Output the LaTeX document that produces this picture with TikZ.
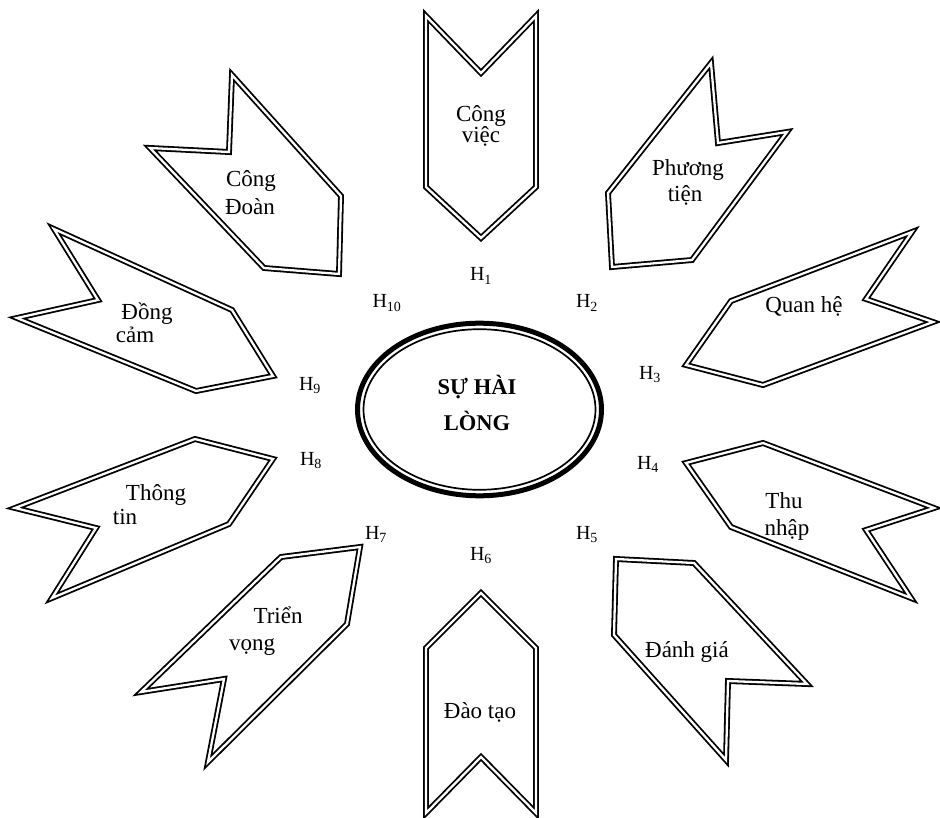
\documentclass[tikz,border=0pt]{standalone}
\usepackage{fontspec}
\setmainfont{Liberation Serif}
\begin{document}
\begin{tikzpicture}[x=1pt,y=-1pt,
  arrowshape/.style={draw, line width=1.8pt, double=white, double distance=2.3pt, line join=miter},
  lbl/.style={font=\fontsize{23}{25}\selectfont, anchor=base, inner sep=0pt},
  hlbl/.style={font=\fontsize{20}{22}\selectfont, anchor=base, inner sep=0pt},
  ctext/.style={font=\fontsize{22.5}{25}\selectfont\bfseries, anchor=base, inner sep=0pt}]
\useasboundingbox (0,0) rectangle (940,818);
% shapes
\draw[arrowshape] (426,16) -- (481,73) -- (536,16) -- (536,187) -- (481,238) -- (426,187) -- cycle;
\draw[arrowshape] (711,63) -- (718,143) -- (787,132) -- (692,260) -- (612,267) -- (608,193) -- cycle;
\draw[arrowshape] (912,232) -- (866,299) -- (933,322) -- (763,385) -- (686,365) -- (731,301) -- cycle;
\draw[arrowshape] (934,508) -- (866,530) -- (911,598) -- (731,527) -- (686,463) -- (763,443) -- cycle;
\draw[arrowshape] (807,684) -- (728,681) -- (726,760) -- (614,635) -- (616,559) -- (694,563) -- cycle;
\draw[arrowshape] (536,813) -- (481,757) -- (426,813) -- (426,648) -- (481,593) -- (536,648) -- cycle;
\draw[arrowshape] (208,762) -- (224,679) -- (141,692) -- (281,557) -- (360,547) -- (347,624) -- cycle;
\draw[arrowshape] (52,598) -- (96,528) -- (15,508) -- (195,439) -- (273,459) -- (229,524) -- cycle;
\draw[arrowshape] (17,318) -- (98,300) -- (54,229) -- (232,310) -- (273,376) -- (196,391) -- cycle;
\draw[arrowshape] (150,148) -- (229,152) -- (232,75) -- (341,196) -- (339,274) -- (264,268) -- cycle;
% central ellipse
\coordinate (c) at (479.5,409.5);
\draw[line width=5pt] (c) ellipse [x radius=122, y radius=86.3];
\draw[line width=1.7pt] (c) ellipse [x radius=116, y radius=80.3];
\node[ctext] (c1) at (477,395) {SỰ HÀI};
\node[ctext] (c2) at (477,430) {LÒNG};
% shape texts
\node[lbl] (t1a) at (481,122) {Công};
\node[lbl] (t1b) at (481,143) {việc};
\node[lbl] (t2a) at (688,176) {Phương};
\node[lbl] (t2b) at (685,202) {tiện};
\node[lbl] (t3) at (804,313) {Quan hệ};
\node[lbl] (t4a) at (784,508) {Thu};
\node[lbl] (t4b) at (787,535) {nhập};
\node[lbl] (t5) at (687,657) {Đánh giá};
\node[lbl] (t6) at (480,718) {Đào tạo};
\node[lbl] (t7a) at (278,623) {Triển};
\node[lbl] (t7b) at (252,650) {vọng};
\node[lbl] (t8a) at (156,500) {Thông};
\node[lbl] (t8b) at (125,524) {tin};
\node[lbl] (t9a) at (147,320) {Đồng};
\node[lbl] (t9b) at (135,343) {cảm};
\node[lbl] (t10a) at (251,187) {Công};
\node[lbl] (t10b) at (250,215) {Đoàn};
% H labels
\node[hlbl] (h1) at (481,281) {H\textsubscript{1}};
\node[hlbl] (h2) at (587,308) {H\textsubscript{2}};
\node[hlbl] (h3) at (650,379) {H\textsubscript{3}};
\node[hlbl] (h4) at (648,469) {H\textsubscript{4}};
\node[hlbl] (h5) at (587,539) {H\textsubscript{5}};
\node[hlbl] (h6) at (481,560) {H\textsubscript{6}};
\node[hlbl] (h7) at (376,539) {H\textsubscript{7}};
\node[hlbl] (h8) at (311,465) {H\textsubscript{8}};
\node[hlbl] (h9) at (310,390) {H\textsubscript{9}};
\node[hlbl] (h10) at (387,308) {H\textsubscript{10}};
\end{tikzpicture}
\end{document}
